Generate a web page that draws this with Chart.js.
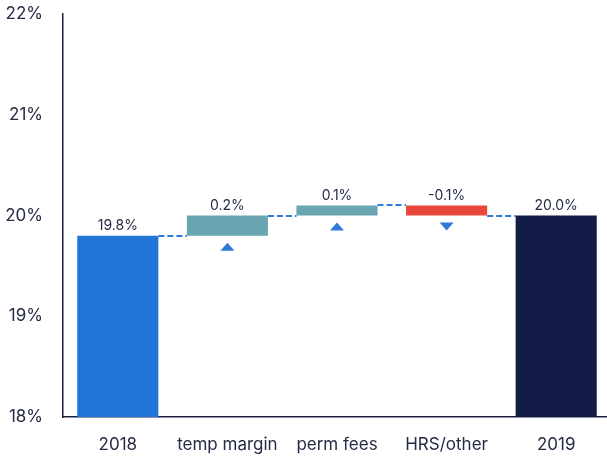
<!DOCTYPE html>
<html>
<head>
<meta charset="utf-8">
<script src="https://cdn.jsdelivr.net/npm/chart.js@4/dist/chart.umd.min.js"></script>
<style>
html,body{margin:0;padding:0;background:#fff;overflow:hidden;}
#wrap{width:607px;height:457px;position:relative;overflow:hidden;}
#c{display:block;}
</style>
</head>
<body>
<div id="wrap"><canvas id="c" width="611" height="457"></canvas></div>
<script>
const categories = ['2018', 'temp margin', 'perm fees', 'HRS/other', '2019'];
const startTotal = 19.8;
const changes = [0.2, 0.1, -0.1];
const endTotal = 20.0;
const valueLabels = ['19.8%', '0.2%', '0.1%', '-0.1%', '20.0%'];
const yTicks = [18, 19, 20, 21, 22];
const barColors = ['#2374d8', '#6aa5b2', '#6aa5b2', '#e8473a', '#121b45'];

const axisBase = yTicks[0];
const ranges = [[axisBase, startTotal]];
let running = startTotal;
changes.forEach(c => {
  const next = Math.round((running + c) * 100) / 100;
  ranges.push([Math.min(running, next), Math.max(running, next)]);
  running = next;
});
ranges.push([axisBase, endTotal]);
const levels = [startTotal];
{ let r = startTotal; changes.forEach(c => { r = Math.round((r + c) * 100) / 100; levels.push(r); }); }

const TEXT = '#262b45';
const FONT = 'Inter, "Open Sans", sans-serif';

const waterfallPlugin = {
  id: 'waterfall',
  afterDatasetsDraw(chart) {
    const ctx = chart.ctx;
    const meta = chart.getDatasetMeta(0);
    const y = chart.scales.y;
    ctx.save();
    ctx.strokeStyle = '#2f7ad8';
    ctx.lineWidth = 2;
    ctx.setLineDash([6, 3]);
    for (let i = 0; i < meta.data.length - 1; i++) {
      const a = meta.data[i], b = meta.data[i + 1];
      const py = Math.round(y.getPixelForValue(levels[i]));
      ctx.beginPath();
      ctx.moveTo(a.x + a.width / 2, py);
      ctx.lineTo(b.x - b.width / 2, py);
      ctx.stroke();
    }
    ctx.setLineDash([]);
    ctx.fillStyle = TEXT;
    ctx.font = '14px ' + FONT;
    ctx.textAlign = 'center';
    ctx.textBaseline = 'bottom';
    meta.data.forEach((bar, i) => {
      const top = Math.min(bar.y, bar.base);
      ctx.fillText(valueLabels[i], bar.x, top - 3);
    });
    ctx.fillStyle = '#2f7ad8';
    changes.forEach((c, k) => {
      const bar = meta.data[k + 1];
      const bottom = Math.max(bar.y, bar.base);
      const t = bottom + 7, h = 8, w = 14;
      ctx.beginPath();
      if (c >= 0) {
        ctx.moveTo(bar.x, t); ctx.lineTo(bar.x + w / 2, t + h); ctx.lineTo(bar.x - w / 2, t + h);
      } else {
        ctx.moveTo(bar.x - w / 2, t); ctx.lineTo(bar.x + w / 2, t); ctx.lineTo(bar.x, t + h);
      }
      ctx.closePath();
      ctx.fill();
    });
    ctx.restore();
  }
};

new Chart(document.getElementById('c'), {
  type: 'bar',
  data: {
    labels: categories,
    datasets: [{
      data: ranges,
      backgroundColor: barColors,
      borderWidth: 0,
      borderSkipped: false,
      barPercentage: 1,
      categoryPercentage: 0.74
    }]
  },
  options: {
    responsive: false,
    animation: false,
    devicePixelRatio: 1,
    layout: { padding: { top: 14, right: 0, bottom: 0, left: 0 } },
    plugins: { legend: { display: false }, tooltip: { enabled: false } },
    scales: {
      x: {
        grid: { display: false, drawTicks: false },
        border: { display: true, color: '#1a1f3d', width: 1.5 },
        ticks: { color: TEXT, font: { family: FONT, size: 17 }, padding: 18, maxRotation: 0 },
        afterFit(scale) { scale.height = 40; scale.paddingLeft = 0; scale.paddingRight = 0; }
      },
      y: {
        min: yTicks[0], max: yTicks[yTicks.length - 1],
        afterBuildTicks(scale) { scale.ticks = yTicks.map(v => ({ value: v })); },
        afterFit(scale) { scale.width = 63; scale.paddingTop = 0; scale.paddingBottom = 0; },
        grid: { display: false, drawTicks: false },
        border: { display: true, color: '#1a1f3d', width: 1.5 },
        ticks: { color: TEXT, font: { family: FONT, size: 17 }, padding: 20, callback: v => v + '%' }
      }
    }
  },
  plugins: [waterfallPlugin]
});
</script>
</body>
</html>
